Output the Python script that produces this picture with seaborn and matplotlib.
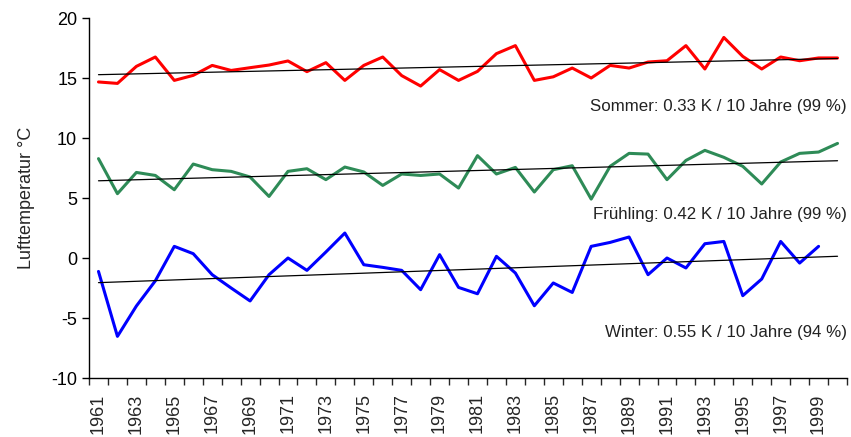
import numpy as np
import pandas as pd
import matplotlib.pyplot as plt
import seaborn as sns

years = list(range(1961, 2001))

sommer = [14.67, 14.55, 15.97, 16.75, 14.80, 15.22, 16.05, 15.63, 15.86, 16.08,
          16.42, 15.53, 16.28, 14.80, 16.05, 16.75, 15.20, 14.33, 15.70, 14.80,
          15.55, 17.03, 17.70, 14.80, 15.10, 15.83, 15.00, 16.05, 15.83, 16.33,
          16.44, 17.70, 15.75, 18.38, 16.80, 15.75, 16.75, 16.44, 16.67, 16.67]

fruehling = [8.28, 5.36, 7.13, 6.88, 5.69, 7.83, 7.36, 7.22, 6.75, 5.13,
             7.22, 7.44, 6.53, 7.58, 7.17, 6.05, 7.00, 6.88, 7.00, 5.83,
             8.53, 7.00, 7.55, 5.50, 7.36, 7.69, 4.91, 7.64, 8.72, 8.66,
             6.53, 8.13, 8.97, 8.39, 7.64, 6.17, 8.00, 8.72, 8.83, 9.55]

# Winter ends in 1999
winter = [-1.12, -6.53, -4.00, -1.90, 0.97, 0.36, -1.39, -2.50, -3.58, -1.39,
          0.00, -1.03, 0.50, 2.08, -0.56, -0.78, -1.03, -2.64, 0.28, -2.45,
          -2.98, 0.14, -1.25, -3.98, -2.08, -2.87, 0.97, 1.30, 1.75, -1.39,
          0.00, -0.83, 1.19, 1.38, -3.14, -1.75, 1.38, -0.42, 0.97]

series = ["Sommer", "Frühling", "Winter"]
colors = ["#ff0000", "#2e8b57", "#0000ff"]
trend_texts = ["Sommer: 0.33 K / 10 Jahre (99 %)",
               "Frühling: 0.42 K / 10 Jahre (99 %)",
               "Winter: 0.55 K / 10 Jahre (94 %)"]
text_y = [12.6, 3.6, -6.2]

sns.set_style("ticks")
plt.rcParams['font.family'] = ['Liberation Sans', 'DejaVu Sans']
plt.rcParams['axes.unicode_minus'] = False

fig, ax = plt.subplots(figsize=(8.51, 4.37), dpi=100)
fig.subplots_adjust(left=0.1046, right=0.9953, top=0.9588, bottom=0.135)

for name, vals, col, txt, ty in zip(series, [sommer, fruehling, winter], colors, trend_texts, text_y):
    df = pd.DataFrame({"Jahr": years[:len(vals)], "T": vals})
    sns.lineplot(data=df, x="Jahr", y="T", color=col, linewidth=2.2, ax=ax)
    # linear trend over the whole period
    k, d = np.polyfit(df["Jahr"], df["T"], 1)
    yrs = np.array(years)
    sns.lineplot(x=yrs, y=k * yrs + d, color="black", linewidth=0.9, ax=ax)
    ax.text(1.0, ty, txt, transform=ax.get_yaxis_transform(), ha="right", va="center",
            fontsize=12.2, color="#222222")

ax.set_xlim(1960.5, 2000.5)
ax.set_ylim(-10, 20)
ax.set_yticks([-10, -5, 0, 5, 10, 15, 20])
ax.tick_params(axis="y", labelsize=13, length=5, width=1, colors="black")
ax.set_xticks(np.arange(1960.5, 2001, 1))
ax.set_xticklabels([])
ax.set_xticks(years[::2], minor=True)
ax.set_xticklabels([str(y) for y in years[::2]], minor=True, rotation=90)
ax.tick_params(axis="x", which="major", length=5, width=1)
ax.tick_params(axis="x", which="minor", length=0, labelsize=13, pad=11)
ax.set_xlabel("")
ax.set_ylabel("Lufttemperatur °C", fontsize=13, labelpad=12)
for s in ["left", "bottom"]:
    ax.spines[s].set_linewidth(1)
    ax.spines[s].set_color("black")
sns.despine(ax=ax)

fig.savefig("out.png", dpi=100)
